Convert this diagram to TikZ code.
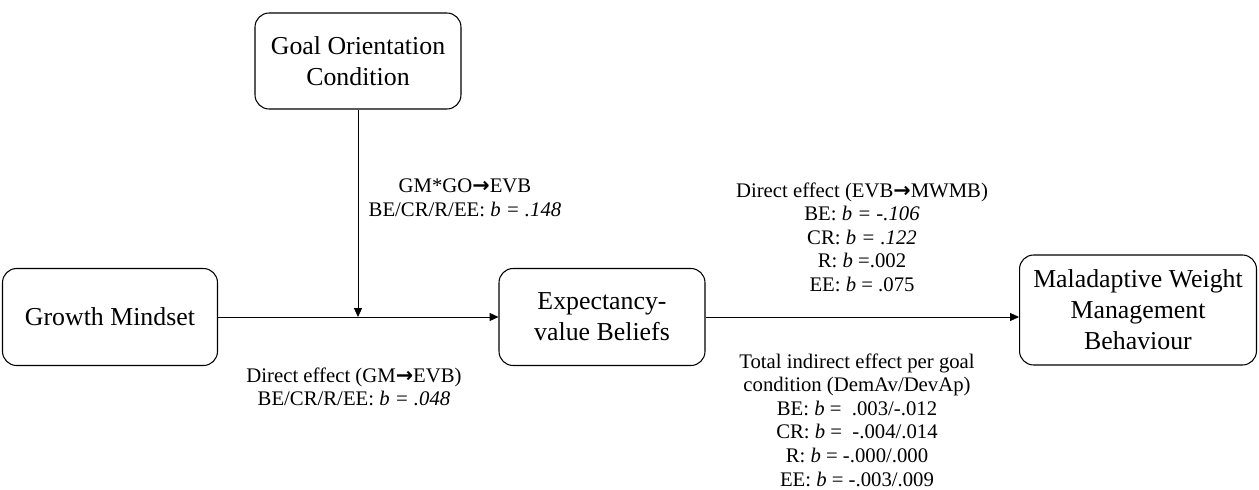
\documentclass[tikz,border=0pt]{standalone}
\usepackage{fontspec}
\setmainfont{Liberation Serif}
\newfontfamily\arrowfont{DejaVu Sans}
\usetikzlibrary{arrows.meta, positioning, calc}

\newcommand{\rarr}{{\arrowfont\bfseries →}}

\begin{document}
\begin{tikzpicture}[
  x=0.02cm, y=-0.02cm,
  var/.style={rectangle, draw=black, semithick,
              rounded corners=8pt,
              minimum width=4.12cm, minimum height=1.94cm,
              align=center, inner sep=2pt,
              font=\fontsize{14.7}{17.6}\selectfont},
  lbl/.style={align=center, inner sep=0pt,
              font=\fontsize{11.8}{13.4}\selectfont},
  arr/.style={-{Triangle[length=5pt,width=4.5pt]}, thin}
]
  \useasboundingbox (0,0) rectangle (1259,490);

  % variables
  \node[var, minimum height=1.92cm] (goal) at (358,61)
    {Goal Orientation\\Condition};
  \node[var, minimum width=4.3cm] (mindset) at (110,317)
    {Growth Mindset};
  \node[var] (beliefs) at (602,317)
    {Expectancy-\\value Beliefs};
  \node[var, minimum width=4.74cm, minimum height=2.2cm] (weight) at (1138,310)
    {Maladaptive Weight\\Management\\Behaviour};

  % paths
  \coordinate (mod) at (goal.south |- mindset.east);
  \draw[arr] (mindset) -- (beliefs);
  \draw[arr] (goal) -- (mod);
  \draw[arr] (beliefs.east) -- (beliefs.east -| weight.west);

  % coefficients
  \node[lbl] (interact) at (465,198)
    {GM*GO\rarr EVB\\
     BE/CR/R/EE: \textit{b = .148}};
  \node[lbl] (directgm) at (354,387)
    {Direct effect (GM\rarr EVB)\\
     BE/CR/R/EE: \textit{b = .048}};
  \node[lbl] (directevb) at (862,237)
    {Direct effect (EVB\rarr MWMB)\\
     BE: \textit{b = -.106}\\
     CR: \textit{b = .122}\\
     R: \textit{b} =.002\\
     EE: \textit{b} = .075};
  \node[lbl] (indirect) at (857,420)
    {Total indirect effect per goal\\
     condition (DemAv/DevAp)\\
     BE: \textit{b} = \ .003/-.012\\
     CR: \textit{b} = \ -.004/.014\\
     R: \textit{b} = -.000/.000\\
     EE: \textit{b} = -.003/.009};
\end{tikzpicture}
\end{document}
